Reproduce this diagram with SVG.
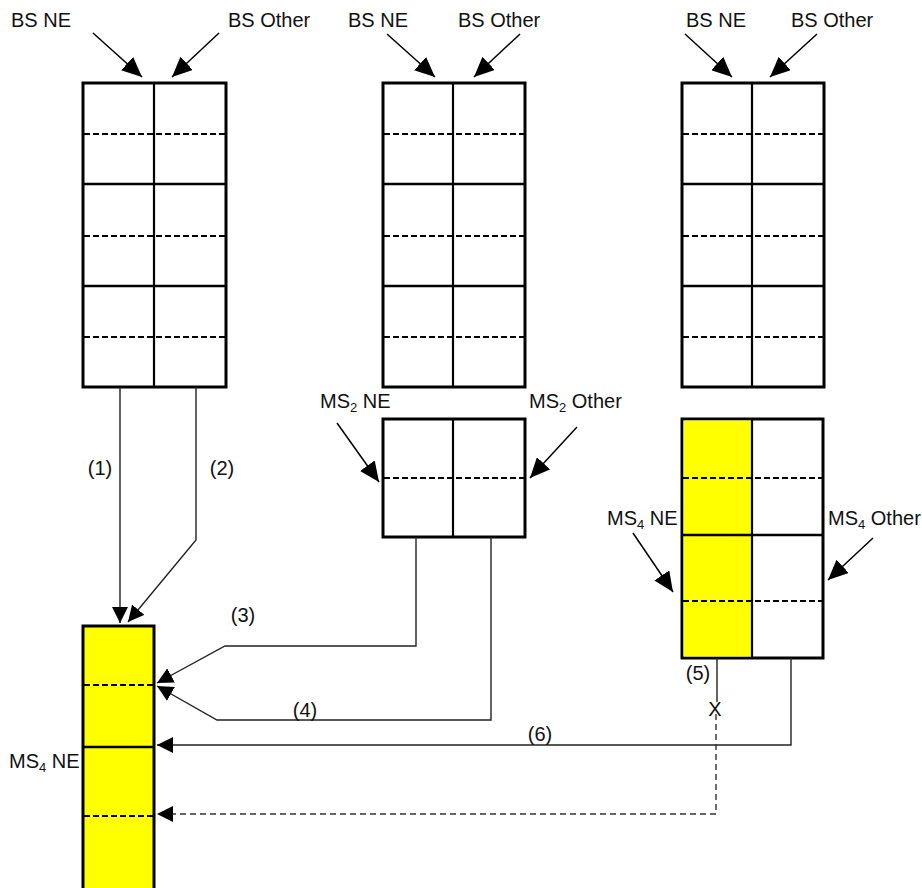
<svg xmlns="http://www.w3.org/2000/svg" width="922" height="888" viewBox="0 0 922 888">
<defs>
<style>
text{font-family:"Liberation Sans",Arial,sans-serif;font-size:20px;fill:#111}
.sub{font-size:13px}
.box{fill:#fff;stroke:#000;stroke-width:3}
.yel{fill:#ffff00;stroke:none}
.solid{stroke:#000;stroke-width:2.5}
.mid{stroke:#000;stroke-width:2.2}
.dash{stroke:#000;stroke-width:2;stroke-dasharray:6,3}
.con{fill:none;stroke:#222;stroke-width:1.4}
.cond{fill:none;stroke:#333;stroke-width:1.4;stroke-dasharray:6,4}
.ann{fill:none;stroke:#000;stroke-width:1.5}
</style>
<marker id="ah" markerUnits="userSpaceOnUse" markerWidth="17" markerHeight="16" refX="16" refY="8" orient="auto">
<path d="M0,0 L16,8 L0,16 z" fill="#000"/>
</marker>
<marker id="bh" markerUnits="userSpaceOnUse" markerWidth="21" markerHeight="18" refX="20" refY="9" orient="auto">
<path d="M0,0 L20,9 L0,18 z" fill="#000"/>
</marker>
</defs>

<g id="bs-left">
<rect class="box" x="83" y="83" width="143" height="304"/>
<line class="dash" x1="84" y1="134" x2="225" y2="134"/>
<line class="solid" x1="84" y1="184" x2="225" y2="184"/>
<line class="dash" x1="84" y1="236" x2="225" y2="236"/>
<line class="solid" x1="84" y1="286" x2="225" y2="286"/>
<line class="dash" x1="84" y1="337" x2="225" y2="337"/>
<line class="mid" x1="154" y1="83" x2="154" y2="387"/>
<text x="11" y="27">BS NE</text>
<text x="228" y="27">BS Other</text>
<line class="ann" x1="93" y1="33" x2="142" y2="77" marker-end="url(#bh)"/>
<line class="ann" x1="219" y1="33" x2="172" y2="77" marker-end="url(#bh)"/>
</g>

<g id="bs-middle">
<rect class="box" x="383" y="83" width="142" height="304"/>
<line class="dash" x1="384" y1="134" x2="524" y2="134"/>
<line class="solid" x1="384" y1="184" x2="524" y2="184"/>
<line class="dash" x1="384" y1="236" x2="524" y2="236"/>
<line class="solid" x1="384" y1="286" x2="524" y2="286"/>
<line class="dash" x1="384" y1="337" x2="524" y2="337"/>
<line class="mid" x1="453" y1="83" x2="453" y2="387"/>
<text x="348" y="27">BS NE</text>
<text x="458" y="27">BS Other</text>
<line class="ann" x1="387" y1="34" x2="435" y2="77" marker-end="url(#bh)"/>
<line class="ann" x1="520" y1="34" x2="474" y2="77" marker-end="url(#bh)"/>
</g>

<g id="bs-right">
<rect class="box" x="682" y="83" width="142" height="304"/>
<line class="dash" x1="683" y1="134" x2="823" y2="134"/>
<line class="solid" x1="683" y1="184" x2="823" y2="184"/>
<line class="dash" x1="683" y1="236" x2="823" y2="236"/>
<line class="solid" x1="683" y1="286" x2="823" y2="286"/>
<line class="dash" x1="683" y1="337" x2="823" y2="337"/>
<line class="mid" x1="752" y1="83" x2="752" y2="387"/>
<text x="686" y="27">BS NE</text>
<text x="791" y="27">BS Other</text>
<line class="ann" x1="685" y1="34" x2="732" y2="77" marker-end="url(#bh)"/>
<line class="ann" x1="817" y1="34" x2="770" y2="77" marker-end="url(#bh)"/>
</g>

<g id="ms2">
<rect class="box" x="383" y="419" width="142" height="118"/>
<line class="dash" x1="384" y1="478" x2="524" y2="478"/>
<line class="mid" x1="453" y1="419" x2="453" y2="537"/>
<text x="320" y="408">MS<tspan class="sub" dy="4">2</tspan><tspan dy="-4"> NE</tspan></text>
<text x="529" y="408">MS<tspan class="sub" dy="4">2</tspan><tspan dy="-4"> Other</tspan></text>
<line class="ann" x1="337" y1="423" x2="379" y2="482" marker-end="url(#bh)"/>
<line class="ann" x1="577" y1="427" x2="530" y2="478" marker-end="url(#bh)"/>
</g>

<g id="ms4-right">
<rect class="box" x="682" y="419" width="141" height="239"/>
<rect class="yel" x="683.5" y="420.5" width="68.5" height="236"/>
<line class="dash" x1="683" y1="478" x2="822" y2="478"/>
<line class="solid" x1="683" y1="535" x2="822" y2="535"/>
<line class="dash" x1="683" y1="601" x2="822" y2="601"/>
<line class="mid" x1="752" y1="419" x2="752" y2="658"/>
<text x="607" y="525">MS<tspan class="sub" dy="4">4</tspan><tspan dy="-4"> NE</tspan></text>
<text x="828" y="525">MS<tspan class="sub" dy="4">4</tspan><tspan dy="-4"> Other</tspan></text>
<line class="ann" x1="633" y1="533" x2="673" y2="592" marker-end="url(#bh)"/>
<line class="ann" x1="873" y1="538" x2="828" y2="580" marker-end="url(#bh)"/>
</g>

<g id="ms4-left">
<rect class="box" x="83" y="626" width="71" height="270" style="fill:#ffff00"/>
<line class="dash" x1="84" y1="685" x2="153" y2="685"/>
<line class="solid" x1="84" y1="747" x2="153" y2="747"/>
<line class="dash" x1="84" y1="816" x2="153" y2="816"/>
<text x="9" y="768">MS<tspan class="sub" dy="4">4</tspan><tspan dy="-4"> NE</tspan></text>
</g>

<g id="connectors">
<line class="con" x1="120" y1="387" x2="120" y2="623" marker-end="url(#ah)"/>
<polyline class="con" points="196,387 196,540 128,622" marker-end="url(#ah)"/>
<polyline class="con" points="416,537 416,646 225,646 157,683" marker-end="url(#ah)"/>
<polyline class="con" points="491,537 491,720 217,720 157,686" marker-end="url(#ah)"/>
<polyline class="con" points="791,658 791,745 157,745" marker-end="url(#ah)"/>
<line class="con" x1="717" y1="658" x2="717" y2="702"/>
<polyline class="cond" points="716,714 716,814 157,814" marker-end="url(#ah)"/>
<text x="100" y="475" text-anchor="middle">(1)</text>
<text x="222" y="475" text-anchor="middle">(2)</text>
<text x="243" y="622" text-anchor="middle">(3)</text>
<text x="305" y="717" text-anchor="middle">(4)</text>
<text x="698" y="680" text-anchor="middle">(5)</text>
<text x="540" y="741" text-anchor="middle">(6)</text>
<text x="715" y="716" text-anchor="middle">X</text>
</g>
</svg>
